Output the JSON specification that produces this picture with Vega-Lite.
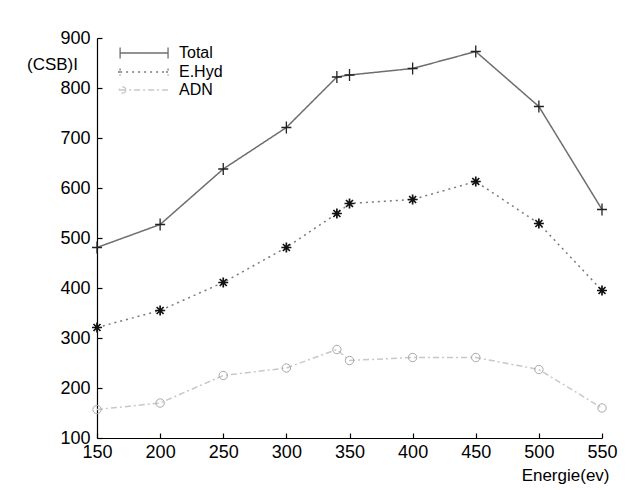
{
  "$schema": "https://vega.github.io/schema/vega-lite/v6.json",
  "autosize": "none",
  "width": 505,
  "height": 400,
  "padding": {"left": 97, "top": 38, "right": 35, "bottom": 52},
  "background": "white",
  "config": {
    "view": {"stroke": null},
    "font": "Liberation Sans",
    "axis": {
      "grid": false,
      "domainColor": "#000",
      "domainWidth": 1.2,
      "tickColor": "#000",
      "tickWidth": 1.2,
      "tickSize": -5,
      "labelFlush": false,
      "labelOverlap": false,
      "labelColor": "#000",
      "labelFont": "Liberation Sans",
      "labelFontSize": 18,
      "titleFont": "Liberation Sans",
      "titleFontSize": 17,
      "titleFontWeight": "normal",
      "titleColor": "#000"
    }
  },
  "data": {
    "values": [
      {"e": 150, "v": 481, "s": "Total"},
      {"e": 200, "v": 527, "s": "Total"},
      {"e": 250, "v": 638, "s": "Total"},
      {"e": 300, "v": 721, "s": "Total"},
      {"e": 340, "v": 822, "s": "Total"},
      {"e": 350, "v": 826, "s": "Total"},
      {"e": 400, "v": 839, "s": "Total"},
      {"e": 450, "v": 873, "s": "Total"},
      {"e": 500, "v": 763, "s": "Total"},
      {"e": 550, "v": 557, "s": "Total"},
      {"e": 150, "v": 321, "s": "E.Hyd"},
      {"e": 200, "v": 355, "s": "E.Hyd"},
      {"e": 250, "v": 411, "s": "E.Hyd"},
      {"e": 300, "v": 481, "s": "E.Hyd"},
      {"e": 340, "v": 549, "s": "E.Hyd"},
      {"e": 350, "v": 569, "s": "E.Hyd"},
      {"e": 400, "v": 577, "s": "E.Hyd"},
      {"e": 450, "v": 613, "s": "E.Hyd"},
      {"e": 500, "v": 529, "s": "E.Hyd"},
      {"e": 550, "v": 395, "s": "E.Hyd"},
      {"e": 150, "v": 157, "s": "ADN"},
      {"e": 200, "v": 170, "s": "ADN"},
      {"e": 250, "v": 225, "s": "ADN"},
      {"e": 300, "v": 240, "s": "ADN"},
      {"e": 340, "v": 277, "s": "ADN"},
      {"e": 350, "v": 255, "s": "ADN"},
      {"e": 400, "v": 261, "s": "ADN"},
      {"e": 450, "v": 261, "s": "ADN"},
      {"e": 500, "v": 237, "s": "ADN"},
      {"e": 550, "v": 160, "s": "ADN"}
    ]
  },
  "encoding": {
    "x": {
      "field": "e", "type": "quantitative",
      "scale": {"domain": [150, 550], "nice": false, "zero": false},
      "axis": {
        "values": [150, 200, 250, 300, 350, 400, 450, 500, 550],
        "labelPadding": 10,
        "title": "Energie(ev)",
        "titleAlign": "right",
        "titleBaseline": "middle",
        "titleX": 512,
        "titleY": 37
      }
    },
    "y": {
      "field": "v", "type": "quantitative",
      "scale": {"domain": [100, 900], "nice": false, "zero": false},
      "axis": {
        "values": [100, 200, 300, 400, 500, 600, 700, 800, 900],
        "labelPadding": 12,
        "title": "(CSB)I",
        "titleAngle": 0,
        "titleAlign": "center",
        "titleBaseline": "middle",
        "titleX": -45,
        "titleY": 26
      }
    }
  },
  "layer": [
    {
      "mark": {"type": "line", "strokeWidth": 1.5},
      "encoding": {
        "color": {
          "field": "s", "type": "nominal",
          "scale": {"domain": ["Total", "E.Hyd", "ADN"], "range": ["#6e6e6e", "#7a7a7a", "#c8c8c8"]},
          "legend": {
            "orient": "none",
            "legendX": 62,
            "legendY": 7,
            "title": null,
            "padding": 0,
            "rowPadding": 2,
            "symbolSize": 196,
            "symbolStrokeWidth": 1.3,
            "labelFontSize": 16,
            "labelFont": "Liberation Sans",
            "labelColor": "#000",
            "labelOffset": 4,
            "encode": {
              "symbols": {
                "update": {
                  "shape": {"signal": "datum.value === 'Total' ? 'M-6.7,0L0.15,0M-6.7,-0.8L-6.7,0.8M0.15,-0.8L0.15,0.8' : datum.value === 'E.Hyd' ? 'M-6.7,0L0.15,0M-6.7,-0.5L-6.7,0.5M0.15,-0.5L0.15,0.5M-7,0L-6.4,0M-0.15,0L0.45,0' : 'M-6.7,0L0.15,0M-5.9,0A0.45,0.45 0 1 1 -6.8,0A0.45,0.45 0 1 1 -5.9,0'"}
                }
              }
            }
          }
        },
        "strokeDash": {
          "field": "s", "type": "nominal",
          "scale": {"domain": ["Total", "E.Hyd", "ADN"], "range": [[1, 0], [2, 4], [6, 3, 2, 3]]},
          "legend": null
        }
      }
    },
    {
      "transform": [{"filter": {"field": "s", "equal": "Total"}}],
      "mark": {"type": "point", "filled": false, "opacity": 1, "shape": "M-1,0L1,0M0,-1.2L0,1.2", "stroke": "#222222", "size": 100, "strokeWidth": 1.3}
    },
    {
      "transform": [{"filter": {"field": "s", "equal": "E.Hyd"}}],
      "mark": {"type": "point", "filled": false, "opacity": 1, "shape": "M-1,0L1,0M0,-1L0,1M-0.7,-0.7L0.7,0.7M-0.7,0.7L0.7,-0.7", "stroke": "#111111", "size": 100, "strokeWidth": 1.7}
    },
    {
      "transform": [{"filter": {"field": "s", "equal": "ADN"}}],
      "mark": {"type": "point", "filled": false, "opacity": 1, "shape": "circle", "stroke": "#a8a8a8", "size": 70, "strokeWidth": 1}
    }
  ]
}
